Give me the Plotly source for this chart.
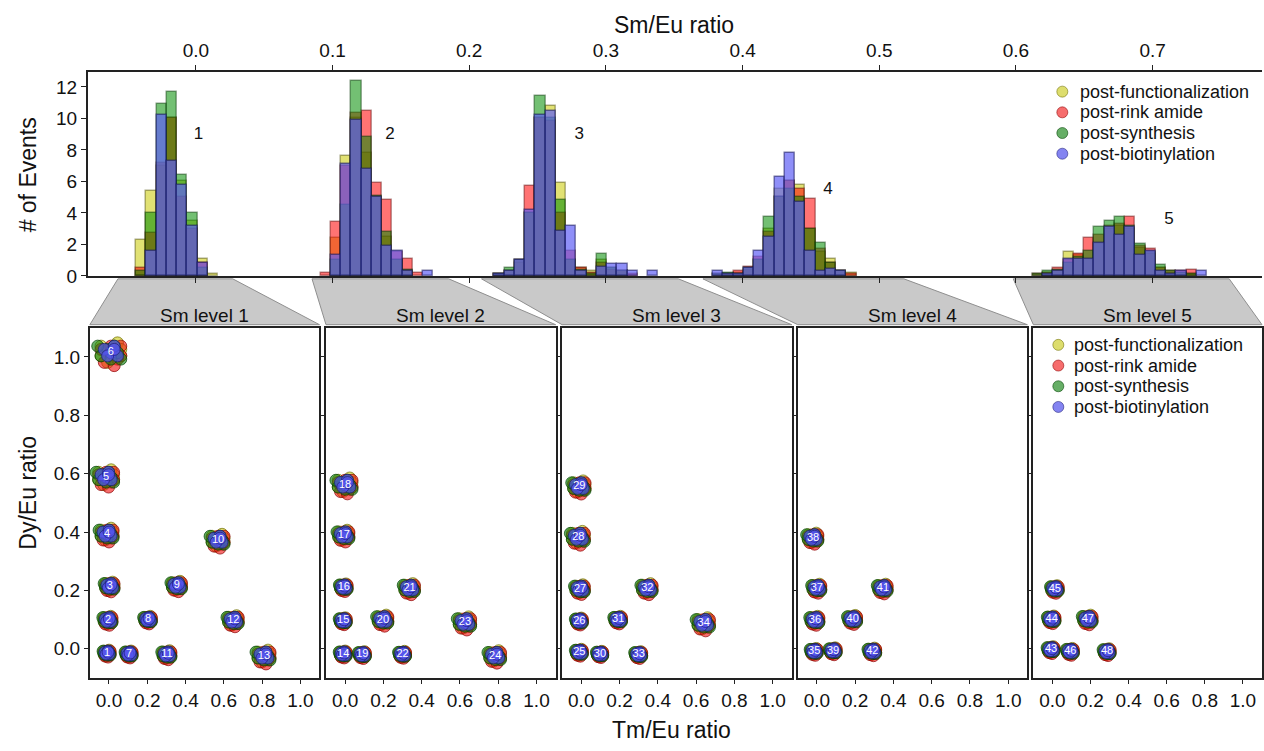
import plotly.graph_objects as go

W, H = 1264, 751
FONT = "Liberation Sans, Arial, sans-serif"

SERIES = ["post-functionalization", "post-rink amide", "post-synthesis", "post-biotinylation"]
BAR_FILL = ["rgba(200,200,0,0.55)", "rgba(255,0,0,0.55)", "rgba(0,140,0,0.55)", "rgba(95,95,245,0.7)"]
BAR_EDGE = ["rgba(70,70,0,0.45)", "rgba(90,0,0,0.45)", "rgba(0,50,0,0.45)", "rgba(20,20,90,0.55)"]
DOT_FILL = ["rgba(200,200,20,0.62)", "rgba(240,20,20,0.62)", "rgba(20,130,20,0.65)", "rgba(85,85,235,0.72)"]
DOT_EDGE = ["rgba(110,110,0,0.7)", "rgba(140,0,0,0.7)", "rgba(0,65,0,0.7)", "rgba(30,30,120,0.7)"]

# ---- Sm/Eu histogram: bin width, first bin centre of each Sm level, counts per series
BIN_W = 0.0075
PEAK_START = [-0.040, 0.095, 0.222, 0.382, 0.616]
HIST = {
    "post-functionalization": [
        [2.3, 5.4, 7.0, 10.0, 6.0, 3.5, 1.1, 0.1],
        [0, 2.4, 7.6, 10.0, 7.8, 5.0, 2.5, 1.0, 0.3, 0, 0],
        [0.1, 0.3, 0.8, 4.0, 10.0, 10.8, 5.9, 1.0, 0.5, 0.3, 1.0, 0.5, 0.3, 0, 0, 0],
        [0, 0.1, 0.2, 0.4, 1.0, 3.0, 5.5, 6.0, 5.8, 3.0, 1.5, 1.1, 0.3, 0.2],
        [0, 0.2, 0.3, 1.5, 1.3, 1.0, 2.0, 3.0, 3.2, 3.0, 1.8, 1.4, 0.5, 0.2, 0.2, 0.1, 0, 0],
    ],
    "post-rink amide": [
        [0.5, 2.7, 7.2, 10.0, 5.0, 3.0, 0.8, 0],
        [0.2, 3.4, 7.0, 10.35, 10.5, 5.9, 4.8, 1.5, 1.1, 0.2, 0],
        [0.1, 0.3, 1.0, 5.7, 10.0, 9.85, 4.0, 1.56, 0.5, 0.2, 0.8, 0.4, 0.3, 0.1, 0, 0],
        [0.1, 0.1, 0.3, 0.6, 1.2, 2.8, 5.0, 6.0, 5.5, 4.9, 1.7, 0.8, 0.3, 0.1],
        [0.1, 0.2, 0.5, 1.0, 1.4, 2.4, 2.6, 3.2, 3.3, 3.75, 1.9, 1.7, 0.5, 0.3, 0.3, 0.4, 0, 0],
    ],
    "post-synthesis": [
        [0.3, 4.0, 10.9, 11.7, 6.4, 4.0, 0.5, 0],
        [0, 1.0, 4.5, 12.35, 8.85, 5.1, 2.8, 1.0, 0.4, 0, 0],
        [0.1, 0.5, 1.0, 4.0, 11.45, 10.0, 4.8, 1.0, 0.4, 0.1, 1.4, 0.5, 0.3, 0, 0, 0],
        [0.1, 0.2, 0.1, 0.5, 1.0, 3.75, 5.0, 5.5, 5.0, 3.0, 2.1, 0.8, 0.3, 0],
        [0.1, 0.3, 0.4, 0.8, 1.2, 1.6, 3.08, 3.5, 3.75, 3.2, 2.0, 1.5, 0.67, 0.3, 0.2, 0.1, 0, 0],
    ],
    "post-biotinylation": [
        [0, 1.6, 10.2, 7.3, 5.8, 3.2, 0.8, 0],
        [0, 1.35, 7.1, 9.9, 6.8, 5.0, 1.9, 1.56, 0.3, 0, 0.3],
        [0.1, 0.3, 1.04, 4.2, 10.2, 10.5, 2.86, 3.2, 0.3, 0, 0.56, 0.77, 0.77, 0.3, 0, 0.3],
        [0.3, 0.1, 0.1, 0.5, 1.56, 2.5, 6.3, 7.8, 4.7, 1.56, 0.3, 0.45, 0.3, 0],
        [0, 0.1, 0.3, 1.08, 1.08, 1.08, 2.08, 3.08, 2.6, 3.1, 1.3, 1.56, 0.3, 0.1, 0.3, 0, 0.3, 0],
    ],
}
PEAK_LABELS = ["1", "2", "3", "4", "5"]
PEAK_LABEL_X = [0.002, 0.142, 0.2805, 0.4625, 0.712]
PEAK_LABEL_Y = [8.95, 8.95, 8.95, 5.45, 3.55]

# Sm/Eu gate limits of each level (strip tops)
GATE_LO = [-0.057, 0.085, 0.209, 0.371, 0.598]
GATE_HI = [0.027, 0.185, 0.353, 0.518, 0.756]
LEVELS = ["Sm level 1", "Sm level 2", "Sm level 3", "Sm level 4", "Sm level 5"]

# ---- Tm/Eu vs Dy/Eu code centres per Sm level: (code, Tm/Eu, Dy/Eu, cluster spread)
CODES = [
    [(1, -0.01, -0.015, 1.0), (2, -0.005, 0.098, 1.3), (3, 0.004, 0.214, 1.4), (4, -0.01, 0.393, 2.0),
     (5, -0.015, 0.588, 2.5), (6, 0.01, 1.015, 3.3), (7, 0.105, -0.018, 1.0), (8, 0.204, 0.100, 1.1),
     (9, 0.355, 0.216, 1.5), (10, 0.57, 0.372, 2.0), (11, 0.303, -0.020, 1.3), (12, 0.65, 0.097, 1.6),
     (13, 0.81, -0.025, 2.0)],
    [(14, -0.01, -0.018, 1.0), (15, -0.01, 0.096, 1.0), (16, -0.007, 0.211, 1.1), (17, -0.007, 0.389, 1.7),
     (18, 0.0, 0.562, 2.3), (19, 0.09, -0.020, 1.0), (20, 0.198, 0.099, 1.6), (21, 0.337, 0.207, 1.6),
     (22, 0.30, -0.019, 1.0), (23, 0.626, 0.090, 1.9), (24, 0.784, -0.025, 1.8)],
    [(25, -0.01, -0.012, 1.0), (26, -0.01, 0.095, 1.0), (27, -0.006, 0.205, 1.4), (28, -0.015, 0.382, 2.0),
     (29, -0.01, 0.556, 1.9), (30, 0.098, -0.018, 0.9), (31, 0.193, 0.100, 1.1), (32, 0.345, 0.207, 1.6),
     (33, 0.30, -0.020, 1.0), (34, 0.64, 0.087, 1.9)],
    [(35, -0.014, -0.009, 1.0), (36, -0.01, 0.098, 1.3), (37, 0.0, 0.208, 1.3), (38, -0.02, 0.380, 1.6),
     (39, 0.085, -0.007, 1.0), (40, 0.187, 0.101, 1.3), (41, 0.345, 0.207, 1.4), (42, 0.29, -0.009, 1.1)],
    [(43, -0.007, -0.003, 1.0), (44, -0.004, 0.101, 1.1), (45, 0.013, 0.205, 1.1), (46, 0.094, -0.009, 1.0),
     (47, 0.186, 0.101, 1.4), (48, 0.287, -0.010, 1.0)],
]
# per-series bead offsets around each centre (screen pixels before spread scaling)
BEAD_OFFSETS = [
    [(-3, 2), (2, 3), (3, -1), (-1, -3), (0, 0), (3, 1), (-3, -1)],
    [(2, -2), (-2, -3), (3, 2), (-3, 1), (1, -4), (0, 2), (3, -1)],
    [(-3, -1), (1, 2), (3, -2), (-1, 1), (-4, 2), (2, 0), (0, -2)],
    [(0, 0), (-2, 1), (2, -1), (1, 2), (-1, -1), (1, 1)],
]

# ---- geometry (pixels of the 1264x751 page)
HX_RANGE = [-0.079, 0.780]
HIST_PX = (88, 1264, 73, 280)          # left, right, top, bottom
PANEL_PX = [(90, 320), (326.5, 556.5), (563, 793), (799, 1029), (1035, 1264)]
PANEL_TOP, PANEL_BOT = 332.7, 688
STRIP_TOP, STRIP_BOT = 283, 329.5


def px(x):
    return x / W


def py(y):
    return 1 - y / H


def hist_x_px(v):
    l, r = HIST_PX[0], HIST_PX[1]
    return l + (v - HX_RANGE[0]) / (HX_RANGE[1] - HX_RANGE[0]) * (r - l)


fig = go.Figure()

# histogram bars
for si, name in enumerate(SERIES):
    xs, ys = [], []
    for start, counts in zip(PEAK_START, HIST[name]):
        for k, c in enumerate(counts):
            if c > 0:
                xs.append(start + k * BIN_W)
                ys.append(c)
    fig.add_trace(go.Bar(
        x=xs, y=ys, width=BIN_W, name=name, showlegend=False,
        marker=dict(color=BAR_FILL[si], line=dict(color=BAR_EDGE[si], width=1.4)),
        xaxis="x", yaxis="y", hoverinfo="x+y",
    ))

fig.add_trace(go.Scatter(
    x=PEAK_LABEL_X, y=PEAK_LABEL_Y, text=PEAK_LABELS, mode="text",
    textfont=dict(family=FONT, size=17, color="#111"), showlegend=False,
    xaxis="x", yaxis="y", hoverinfo="skip",
))

# scatter panels
PXX = 1.2 / 230.0   # data units per pixel, Tm/Eu
PXY = 1.2 / 355.3   # data units per pixel, Dy/Eu
for pi, codes in enumerate(CODES):
    ax = str(pi + 2)
    for si, name in enumerate(SERIES):
        xs, ys = [], []
        for code, cx, cy, spread in codes:
            for dx, dy in BEAD_OFFSETS[si]:
                xs.append(cx + dx * spread * PXX)
                ys.append(cy + dy * spread * PXY)
        fig.add_trace(go.Scatter(
            x=xs, y=ys, mode="markers", name=name, showlegend=False,
            marker=dict(size=12, color=DOT_FILL[si], line=dict(color=DOT_EDGE[si], width=1)),
            xaxis="x" + ax, yaxis="y" + ax,
        ))
    fig.add_trace(go.Scatter(
        x=[c[1] for c in codes], y=[c[2] for c in codes], text=[str(c[0]) for c in codes],
        mode="text", textfont=dict(family=FONT, size=11, color="white"),
        showlegend=False, hoverinfo="skip", xaxis="x" + ax, yaxis="y" + ax,
    ))

axis_common = dict(showgrid=False, zeroline=False, showline=True, linecolor="#222",
                   ticks="outside", tickcolor="#222", tickfont=dict(family=FONT, size=19, color="#111"))

layout = dict(
    width=W, height=H, margin=dict(l=0, r=0, t=0, b=0),
    paper_bgcolor="white", plot_bgcolor="white", barmode="overlay", bargap=0,
    font=dict(family=FONT, color="#111"), showlegend=False,
    xaxis=dict(axis_common, domain=[px(HIST_PX[0]), px(HIST_PX[1])], range=HX_RANGE, side="top",
               mirror="ticks", linewidth=2, ticklen=5, tickvals=[0, 0.1, 0.2, 0.3, 0.4, 0.5, 0.6, 0.7],
               ticktext=["0.0", "0.1", "0.2", "0.3", "0.4", "0.5", "0.6", "0.7"], anchor="y"),
    yaxis=dict(axis_common, domain=[py(HIST_PX[3]), py(HIST_PX[2])], range=[0, 12.95],
               linewidth=2, ticklen=5, tickvals=[0, 2, 4, 6, 8, 10, 12], anchor="x"),
)
TICKS = [0, 0.2, 0.4, 0.6, 0.8, 1.0]
for pi, (l, r) in enumerate(PANEL_PX):
    ax = str(pi + 2)
    layout["xaxis" + ax] = dict(axis_common, domain=[px(l), px(r)], range=[-0.1, 1.1], mirror=True,
                                linewidth=2, ticklen=4, tickvals=TICKS,
                                ticktext=["%.1f" % t for t in TICKS], anchor="y" + ax)
    layout["yaxis" + ax] = dict(axis_common, domain=[py(PANEL_BOT), py(PANEL_TOP)], range=[-0.1, 1.1],
                                mirror=True, linewidth=2, ticklen=4, tickvals=TICKS,
                                ticktext=["%.1f" % t for t in TICKS], showticklabels=(pi == 0),
                                anchor="x" + ax)
fig.update_layout(**layout)

shapes, annotations = [], []
# gate strips linking each Sm level to its panel
for lo, hi, (l, r), label in zip(GATE_LO, GATE_HI, PANEL_PX, LEVELS):
    x0, x1 = hist_x_px(lo), hist_x_px(hi)
    path = "M %.5f,%.5f L %.5f,%.5f L %.5f,%.5f L %.5f,%.5f Z" % (
        px(x0), py(STRIP_TOP), px(x1), py(STRIP_TOP), px(r), py(STRIP_BOT), px(l), py(STRIP_BOT))
    shapes.append(dict(type="path", path=path, xref="paper", yref="paper",
                       fillcolor="#c9c9c9", line=dict(color="#8f8f8f", width=1), layer="below"))
    annotations.append(dict(x=px((l + r) / 2), y=py(320), xref="paper", yref="paper", text=label,
                            showarrow=False, font=dict(family=FONT, size=19, color="#111"),
                            xanchor="center", yanchor="middle"))

# legends
for mx, tx, y0 in [(1064, 1080, 93), (1060, 1074, 350)]:
    for si, name in enumerate(SERIES):
        yy = y0 + si * 21
        shapes.append(dict(type="circle", xref="paper", yref="paper", xsizemode="pixel", ysizemode="pixel",
                           xanchor=px(mx), yanchor=py(yy), x0=-5.5, x1=5.5, y0=-5.5, y1=5.5,
                           fillcolor=DOT_FILL[si], line=dict(color=DOT_EDGE[si], width=0.8)))
        annotations.append(dict(x=px(tx), y=py(yy), xref="paper", yref="paper", text=name, showarrow=False,
                                font=dict(family=FONT, size=18, color="#111"), xanchor="left",
                                yanchor="middle"))

# axis titles
annotations += [
    dict(x=px(675), y=py(25), text="Sm/Eu ratio", textangle=0),
    dict(x=px(673), y=py(741), text="Tm/Eu ratio", textangle=0),
    dict(x=px(28), y=py(177), text="# of Events", textangle=-90),
    dict(x=px(28), y=py(500), text="Dy/Eu ratio", textangle=-90),
]
for a in annotations[-4:]:
    a.update(xref="paper", yref="paper", showarrow=False, font=dict(family=FONT, size=23, color="#111"),
             xanchor="center", yanchor="middle")

fig.update_layout(shapes=shapes, annotations=annotations)
fig.write_html("out.html")
